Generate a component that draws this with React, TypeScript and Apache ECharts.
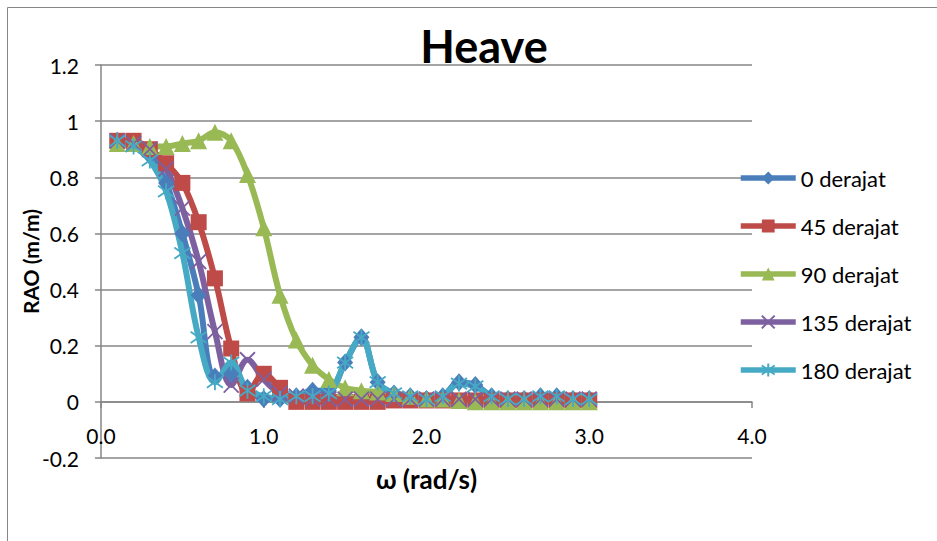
import React, { useEffect, useRef } from "react";
import * as echarts from "echarts";

const omega = [0.1, 0.2, 0.3, 0.4, 0.5, 0.6, 0.7, 0.8, 0.9, 1.0, 1.1, 1.2, 1.3, 1.4, 1.5, 1.6, 1.7, 1.8, 1.9, 2.0, 2.1, 2.2, 2.3, 2.4, 2.5, 2.6, 2.7, 2.8, 2.9, 3.0];

const deg0 = [0.93, 0.92, 0.88, 0.78, 0.6, 0.38, 0.09, 0.1, 0.05, 0.01, 0.01, 0.02, 0.04, 0.04, 0.14, 0.23, 0.07, 0.03, 0.02, 0.01, 0.02, 0.07, 0.06, 0.02, 0.01, 0.01, 0.02, 0.02, 0.01, 0.01];
const deg45 = [0.93, 0.93, 0.9, 0.85, 0.78, 0.64, 0.44, 0.19, 0.03, 0.1, 0.05, 0.0, 0.0, 0.0, 0.0, 0.0, 0.0, 0.005, 0.005, 0.005, 0.005, 0.005, 0.005, 0.005, 0.005, 0.005, 0.005, 0.005, 0.005, 0.005];
const deg90 = [0.92, 0.92, 0.91, 0.91, 0.92, 0.93, 0.96, 0.93, 0.81, 0.62, 0.38, 0.22, 0.13, 0.08, 0.05, 0.04, 0.035, 0.03, 0.02, 0.01, 0.01, 0.005, 0.0, 0.0, 0.0, 0.0, 0.0, 0.0, 0.0, 0.0];
const deg135 = [0.93, 0.92, 0.9, 0.83, 0.69, 0.5, 0.25, 0.06, 0.15, 0.08, 0.03, 0.02, 0.01, 0.01, 0.01, 0.01, 0.01, 0.01, 0.01, 0.01, 0.01, 0.01, 0.01, 0.01, 0.01, 0.01, 0.01, 0.01, 0.01, 0.01];
const deg180 = [0.93, 0.91, 0.86, 0.75, 0.53, 0.23, 0.07, 0.14, 0.04, 0.02, 0.01, 0.02, 0.02, 0.03, 0.14, 0.23, 0.07, 0.03, 0.02, 0.01, 0.02, 0.065, 0.055, 0.02, 0.01, 0.01, 0.02, 0.02, 0.01, 0.01];

const seriesNames = ["0 derajat", "45 derajat", "90 derajat", "135 derajat", "180 derajat"];
const seriesValues = [deg0, deg45, deg90, deg135, deg180];
const seriesColors = ["#4A7EBB", "#BE4B48", "#98B954", "#7D60A0", "#46AAC5"];
const seriesSymbols = [
  "diamond",
  "rect",
  "triangle",
  "path://M0,0L10,10M10,0L0,10",
  "path://M5,0L5,10M0.6,1.5L9.4,8.5M9.4,1.5L0.6,8.5",
];
const seriesSymbolSizes = [[16, 18], 16, 17, 15, 16];

const FONT = "Lato";
const GRID_COLOR = "#868686";

export default function App() {
  const ref = useRef<HTMLDivElement>(null);
  useEffect(() => {
    if (!ref.current) return;
    const chart = echarts.init(ref.current, null, { renderer: "svg" });
    const series = seriesNames.map((name, i) => {
      const isStroke = i >= 3;
      return {
        name,
        type: "line",
        xAxisIndex: 0,
        smooth: 0.35,
        data: omega.map((x, k) => [x, seriesValues[i][k]]),
        symbol: seriesSymbols[i],
        symbolSize: seriesSymbolSizes[i],
        lineStyle: { color: seriesColors[i], width: 6 },
        itemStyle: isStroke
          ? { color: seriesColors[i], borderColor: seriesColors[i], borderWidth: 1.8 }
          : { color: seriesColors[i], borderWidth: 0 },
        emphasis: { disabled: true },
        z: 3,
      };
    });
    chart.setOption({
      animation: false,
      textStyle: { fontFamily: FONT },
      graphic: [
        {
          type: "rect",
          shape: { x: 7.5, y: 7.5, width: 1200, height: 1200 },
          style: { fill: "none", stroke: GRID_COLOR, lineWidth: 1 },
          silent: true,
        },
        {
          type: "text",
          x: 484,
          y: 46,
          style: {
            text: "Heave",
            fontFamily: FONT,
            fontWeight: "bold",
            fontSize: 45,
            fill: "#000",
            align: "center",
            verticalAlign: "middle",
          },
        },
      ],
      grid: { left: 101, right: 185, top: 65, bottom: 83, outerBoundsMode: "none", containLabel: false },
      legend: {
        orient: "vertical",
        left: 738,
        top: 166,
        padding: 0,
        itemWidth: 55,
        itemHeight: 16,
        itemGap: 24,
        lineStyle: { width: 5.5 },
        textStyle: { fontFamily: FONT, fontSize: 22, color: "#000", lineHeight: 24 },
        data: seriesNames,
      },
      xAxis: [
        {
          type: "value",
          position: "bottom",
          min: 0,
          max: 4,
          interval: 1,
          name: "ω (rad/s)",
          nameLocation: "middle",
          nameGap: 8,
          nameMoveOverlap: false,
          nameTextStyle: { fontFamily: FONT, fontWeight: "bold", fontSize: 26, color: "#000" },
          axisLine: { show: false, onZero: false },
          axisTick: { show: false },
          axisLabel: {
            margin: -33,
            fontFamily: FONT,
            fontSize: 21,
            color: "#000",
            formatter: (v: number) => v.toFixed(1),
          },
          splitLine: { show: false },
        },
        {
          type: "value",
          position: "bottom",
          offset: -56,
          min: 0,
          max: 4,
          interval: 1,
          axisLine: { show: true, onZero: false, lineStyle: { color: GRID_COLOR, width: 1.5 } },
          axisTick: { show: true, length: 6, lineStyle: { color: GRID_COLOR, width: 1.5 } },
          axisLabel: { show: false },
          splitLine: { show: false },
          z: 2,
        },
      ],
      yAxis: {
        type: "value",
        min: -0.2,
        max: 1.2,
        interval: 0.2,
        name: "RAO (m/m)",
        nameLocation: "middle",
        nameRotate: 90,
        nameGap: 60,
        nameMoveOverlap: false,
        nameTextStyle: { fontFamily: FONT, fontWeight: "bold", fontSize: 21, color: "#000" },
        axisLine: { show: true, onZero: false, lineStyle: { color: GRID_COLOR, width: 1.5 } },
        axisTick: { show: true, length: 6, lineStyle: { color: GRID_COLOR, width: 1.5 } },
        axisLabel: {
          margin: 22,
          fontFamily: FONT,
          fontSize: 21,
          color: "#000",
          formatter: (v: number) => String(Number(v.toFixed(1))),
        },
        splitLine: { show: true, lineStyle: { color: GRID_COLOR, width: 1.5 } },
      },
      series,
    });
    return () => chart.dispose();
  }, []);
  return (
    <div
      ref={ref}
      style={{ position: "absolute", left: 0, top: 0, width: 937, height: 541, background: "#fff" }}
    />
  );
}
